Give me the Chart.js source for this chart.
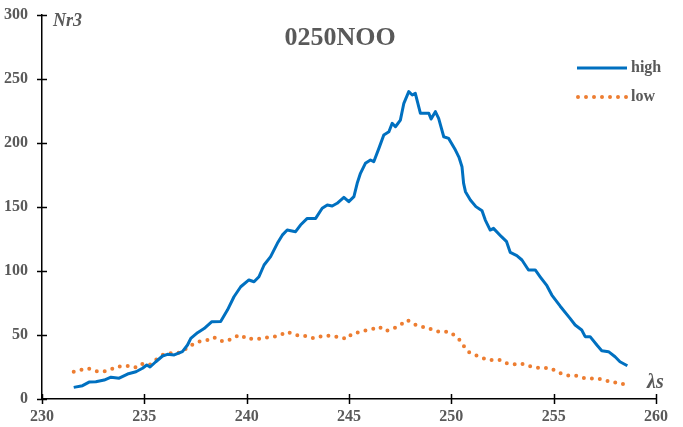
<!DOCTYPE html>
<html>
<head>
<meta charset="utf-8">
<script src="https://cdn.jsdelivr.net/npm/chart.js@4.4.1/dist/chart.umd.min.js"></script>
<style>
  body { margin: 0; background: #fff; }
  #caja { width: 683px; height: 427px; }
</style>
</head>
<body>
<div id="caja"><canvas id="myChart"></canvas></div>
<script>
// Serie "high" (línea continua)
const highX = [231.55, 231.98, 232.3, 232.63, 233.04, 233.37, 233.77, 234.18, 234.59, 234.91,
  235.12, 235.28, 235.56, 235.89, 236.13, 236.46, 236.86, 237.11, 237.27, 237.6,
  237.92, 238.3, 238.73, 239.06, 239.38, 239.71, 240.11, 240.36, 240.6, 240.85,
  241.17, 241.5, 241.74, 241.98, 242.39, 242.63, 242.96, 243.37, 243.69, 243.94,
  244.18, 244.42, 244.75, 244.99, 245.24, 245.4, 245.56, 245.8, 246.05, 246.21,
  246.46, 246.7, 246.95, 247.11, 247.27, 247.51, 247.68, 247.92, 248.09, 248.24,
  248.49, 248.9, 249.01, 249.22, 249.38, 249.63, 249.87, 250.2, 250.37, 250.52,
  250.6, 250.69, 250.93, 251.2, 251.5, 251.66, 251.9, 252.06, 252.45, 252.7,
  252.88, 253.2, 253.45, 253.77, 254.1, 254.34, 254.67, 254.91, 255.32, 255.8,
  256.05, 256.37, 256.54, 256.78, 257.11, 257.35, 257.68, 258.0, 258.24, 258.6];
const highY = [9.1, 10.4, 13.2, 13.5, 14.8, 17, 16.3, 19.5, 21.3, 24,
  26.6, 25, 29.1, 33.6, 34.9, 34.4, 37, 42.2, 47.4, 51.8,
  55, 60.4, 60.6, 69.5, 79.9, 87.7, 93, 91.6, 95.5, 104.7,
  111.2, 121.6, 128, 132, 130.7, 135.9, 141.1, 141.1, 149, 151.6,
  150.8, 152.9, 157.6, 154.2, 158.1, 168.5, 176.3, 184.1, 186.7, 185.4,
  195.8, 206.3, 208.8, 215.4, 212.7, 217.9, 231, 240.1, 237.5, 238.8,
  223.2, 223.2, 218.7, 224.5, 219.3, 204.9, 203.6, 194.5, 189, 181.5,
  168.5, 162, 155.5, 150.3, 147, 139.8, 132, 133.3, 126.8, 122.9,
  114.5, 112, 108.6, 100.8, 100.8, 95.5, 88.5, 81.2, 72.5, 63,
  57.8, 53.9, 48.7, 48.7, 42.2, 37.7, 37, 33, 29.1, 26];

// Serie "low" (línea punteada)
const lowX = [231.55, 231.9, 232.26, 232.59, 232.96, 233.32, 233.64, 233.97, 234.29, 234.62,
  234.94, 235.28, 235.59, 235.89, 236.18, 236.54, 236.83, 237.11, 237.43, 237.76,
  238.08, 238.4, 238.73, 239.06, 239.38, 239.71, 240.03, 240.36, 240.68, 241.01,
  241.33, 241.66, 241.95, 242.28, 242.6, 242.96, 243.28, 243.58, 243.9, 244.23,
  244.55, 244.88, 245.15, 245.48, 245.8, 246.13, 246.46, 246.78, 247.19, 247.51,
  247.84, 248.16, 248.49, 248.81, 249.14, 249.46, 249.87, 250.2, 250.44, 250.63,
  250.89, 251.17, 251.45, 251.77, 252.1, 252.39, 252.72, 253.07, 253.41, 253.74,
  254.1, 254.42, 254.78, 255.11, 255.43, 255.76, 256.08, 256.42, 256.78, 257.14,
  257.5, 257.85, 258.2, 258.6];
const lowY = [21.3, 22.7, 24, 21.9, 21.3, 22.7, 25.3, 25.3, 26, 24.5,
  27.8, 27, 31, 34.4, 35.7, 35.7, 36.8, 40.1, 43.3, 45.3,
  46, 48.2, 45.3, 45.3, 48.2, 50, 46.6, 47.4, 47.1, 48.2,
  48.7, 50, 52.6, 50.8, 49.2, 49.2, 47.4, 48.7, 49.7, 48.7,
  48.7, 46.9, 51, 52.2, 53.6, 54.5, 56.5, 53.1, 55.2, 57.8,
  61.7, 58.6, 56.5, 56, 53.4, 52.3, 52.6, 49.2, 45.6, 40.9,
  36.2, 34.4, 32.6, 30.5, 30.5, 30.5, 27.8, 27, 27.8, 26,
  24.6, 24, 24.5, 22, 19.3, 18.2, 18.2, 16.5, 16.1, 16.1,
  14.8, 12.8, 12.8, 10.3];

const xTicks = [230, 235, 240, 245, 250, 255, 260];
const yTicks = [0, 50, 100, 150, 200, 250, 300];

const titulo = '0250NOO';
const nombresSeries = ['high', 'low'];
const ejeY = 'Nr3';
const ejeX = 'λs';

const gris = '#595959';
const azul = '#0070C0';
const naranja = '#ED7D31';
const fuente = '"Liberation Serif", "Times New Roman", serif';

function puntos(xs, ys) {
  return xs.map((x, i) => ({ x: x, y: ys[i] }));
}

// Marcas de los ejes, títulos y leyenda dibujados a mano
const extras = {
  id: 'extras',
  afterDraw(chart) {
    const ctx = chart.ctx;
    const area = chart.chartArea;
    const sx = chart.scales.x;
    const sy = chart.scales.y;
    ctx.save();
    ctx.strokeStyle = '#000';
    ctx.lineWidth = 1.5;
    yTicks.forEach((v) => {
      const py = Math.round(sy.getPixelForValue(v)) + 0.5;
      ctx.beginPath();
      ctx.moveTo(area.left - 5, py);
      ctx.lineTo(area.left + 5, py);
      ctx.stroke();
    });
    xTicks.forEach((v) => {
      const px = Math.round(sx.getPixelForValue(v)) + 0.5;
      ctx.beginPath();
      ctx.moveTo(px, area.bottom - 5);
      ctx.lineTo(px, area.bottom + 5);
      ctx.stroke();
    });

    ctx.fillStyle = gris;
    ctx.textBaseline = 'middle';
    ctx.textAlign = 'center';
    ctx.font = 'bold 26px ' + fuente;
    ctx.fillText(titulo, 340, 38);

    ctx.textAlign = 'left';
    ctx.font = 'italic bold 18px ' + fuente;
    ctx.fillText(ejeY, area.left + 11, 21);
    ctx.font = 'italic bold 20px ' + fuente;
    ctx.fillText(ejeX, 647, 383);

    // leyenda
    const filas = [68, 97];
    chart.data.datasets.forEach((ds, i) => {
      const y = filas[i];
      ctx.strokeStyle = ds.borderColor;
      ctx.lineWidth = ds.borderWidth;
      ctx.lineCap = ds.borderCapStyle || 'butt';
      ctx.setLineDash(ds.borderDash || []);
      ctx.beginPath();
      ctx.moveTo(i === 1 ? 578 : 577, y);
      ctx.lineTo(627, y);
      ctx.stroke();
      ctx.setLineDash([]);
      ctx.fillStyle = gris;
      ctx.font = 'bold 16px ' + fuente;
      ctx.fillText(nombresSeries[i], 631, y);
    });
    ctx.restore();
  }
};

const config = {
  type: 'line',
  data: {
    datasets: [
      {
        label: nombresSeries[0],
        data: puntos(highX, highY),
        borderColor: azul,
        borderWidth: 3,
        borderJoinStyle: 'round',
        pointRadius: 0,
        tension: 0,
        fill: false
      },
      {
        label: nombresSeries[1],
        data: puntos(lowX, lowY),
        borderColor: naranja,
        borderWidth: 4,
        borderDash: [0, 8],
        borderCapStyle: 'round',
        pointRadius: 0,
        tension: 0,
        fill: false
      }
    ]
  },
  options: {
    responsive: true,
    maintainAspectRatio: false,
    animation: false,
    layout: { padding: { top: 15, right: 27, left: 0, bottom: 0 } },
    plugins: {
      legend: { display: false },
      title: { display: false },
      tooltip: { enabled: false }
    },
    scales: {
      x: {
        type: 'linear',
        min: 230,
        max: 260,
        afterFit: (s) => { s.height = 28; s.paddingLeft = 0; s.paddingRight = 0; },
        afterBuildTicks: (s) => { s.ticks = xTicks.map((v) => ({ value: v })); },
        grid: { display: false, drawTicks: false },
        border: { display: true, color: '#000', width: 1.5 },
        ticks: { color: gris, padding: 8, font: { family: fuente, size: 16, weight: 'bold' } }
      },
      y: {
        min: 0,
        max: 300,
        afterFit: (s) => { s.width = 42; s.paddingTop = 0; s.paddingBottom = 0; },
        afterBuildTicks: (s) => { s.ticks = yTicks.map((v) => ({ value: v })); },
        grid: { display: false, drawTicks: false },
        border: { display: true, color: '#000', width: 1.5 },
        ticks: { color: gris, padding: 14, font: { family: fuente, size: 16, weight: 'bold' } }
      }
    }
  },
  plugins: [extras]
};

const myChart = document.getElementById('myChart').getContext('2d');
new Chart(myChart, config);
</script>
</body>
</html>
